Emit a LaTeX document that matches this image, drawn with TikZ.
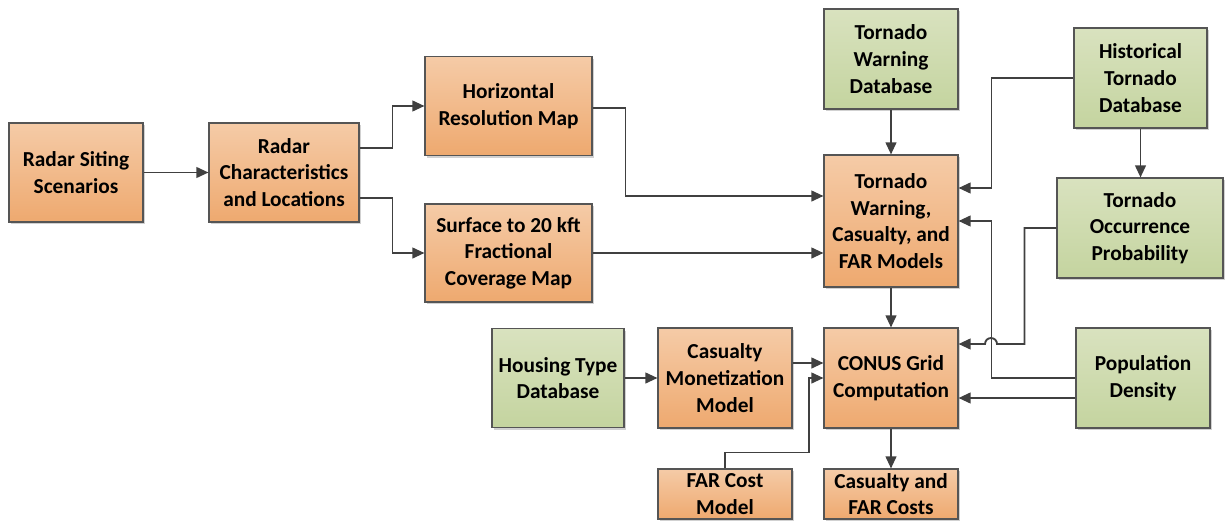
\documentclass[tikz,border=0pt]{standalone}
\usepackage{fontspec}
\setmainfont{Carlito}
\usetikzlibrary{arrows.meta,shadows}
\definecolor{orT}{HTML}{F5CBA7}
\definecolor{orB}{HTML}{EEA96F}
\definecolor{grT}{HTML}{D9E2BF}
\definecolor{grB}{HTML}{C4D49F}
\definecolor{edgec}{HTML}{555555}
\definecolor{linec}{HTML}{404040}
\begin{document}
\begin{tikzpicture}[x=0.75pt,y=-0.75pt,
  sz/.style 2 args={minimum width={#1*0.75pt}, minimum height={#2*0.75pt}},
  box/.style={draw=edgec, line width=0.8pt, align=center, inner sep=0pt,
    font=\bfseries\fontsize{16}{20}\selectfont,
    drop shadow={shadow xshift=1.5pt, shadow yshift=-1.5pt, opacity=0.18, fill=black}},
  obox/.style={box, top color=orT, bottom color=orB},
  gbox/.style={box, top color=grT, bottom color=grB},
  conn/.style={draw=linec, line width=1.4pt, -{Triangle[length=9pt,width=8pt]}}]
\useasboundingbox (0,0) rectangle (1225,521);

\node[obox, sz={134}{99}]  (rss) at (76,172.5)   {Radar Siting\\Scenarios};
\node[obox, sz={150}{99}]  (rcl) at (284,172.5)  {Radar\\Characteristics\\and Locations};
\node[obox, sz={167}{99}]  (hrm) at (508.5,106)  {Horizontal\\Resolution Map};
\node[obox, sz={167}{98}]  (sfc) at (508.5,253)  {Surface to 20 kft\\Fractional\\Coverage Map};
\node[gbox, sz={134}{100}] (twd) at (891,59)     {Tornado\\Warning\\Database};
\node[gbox, sz={133}{100}] (htd) at (1140.5,78)  {Historical\\Tornado\\Database};
\node[obox, sz={134}{132}] (twm) at (891,221)    {Tornado\\Warning,\\Casualty, and\\FAR Models};
\node[gbox, sz={166}{100}] (top) at (1140,228)   {Tornado\\Occurrence\\Probability};
\node[gbox, sz={132}{99}]  (hdb) at (558,378)    {Housing Type\\Database};
\node[obox, sz={134}{100}] (cmm) at (725,378)    {Casualty\\Monetization\\Model};
\node[obox, sz={134}{100}] (cgc) at (891,378)    {CONUS Grid\\Computation};
\node[gbox, sz={134}{100}] (pd)  at (1143,378)   {Population\\Density};
\node[obox, sz={134}{50}]  (fcm) at (725,494)    {FAR Cost\\Model};
\node[obox, sz={134}{50}]  (cfc) at (891,494)    {Casualty and\\FAR Costs};

\draw[conn] (rss.east) -- (rcl.west);
\draw[conn] ([yshift=18.4pt]rcl.east) -- ++(33,0) |- (hrm.west);
\draw[conn] ([yshift=-19.1pt]rcl.east) -- ++(33,0) |- (sfc.west);
\draw[conn] ([yshift=-1.5pt]hrm.east) -- ++(33,0) |- ([yshift=18.75pt]twm.west);
\draw[conn] (sfc.east) -- (sfc.east -| twm.west);
\draw[conn] (twd.south) -- (twm.north);
\draw[conn] (htd.west) -- ++(-82,0) |- ([yshift=24.75pt]twm.east);
\draw[conn] (htd.south) -- (htd.south |- top.north);
\coordinate (hopR) at (997,344);
\draw[conn] (top.west) -- ++(-32,0) |- (hopR) arc[start angle=0, end angle=180, radius=4.5pt] -- ([yshift=25.5pt]cgc.east);
\draw[conn] (pd.west) -- ++(-84,0) |- (twm.east);
\draw[conn] ([yshift=-15pt]pd.west) -- ([yshift=-15pt]cgc.east);
\draw[conn] (twm.south) -- (cgc.north);
\draw[conn] (hdb.east) -- (cmm.west);
\draw[conn] ([yshift=11.25pt]cmm.east) -- ([yshift=11.25pt]cgc.west);
\draw[conn] (fcm.north) -- ++(0,-16) -- ++(84,0) |- (cgc.west);
\draw[conn] (cgc.south) -- (cfc.north);
\end{tikzpicture}
\end{document}
